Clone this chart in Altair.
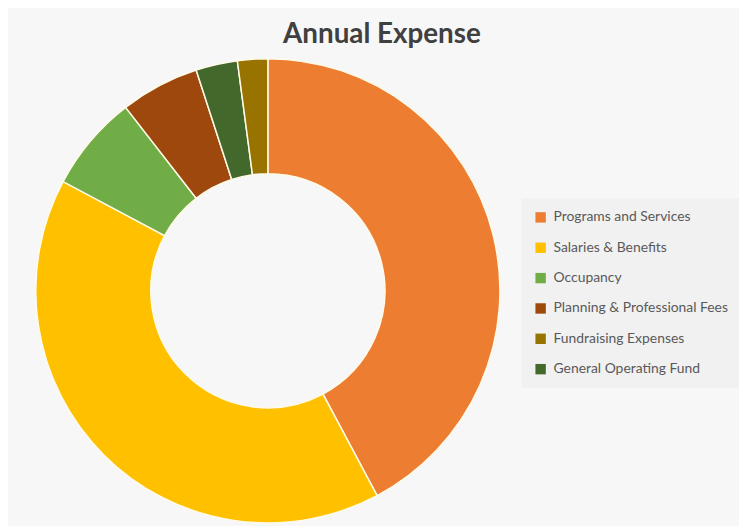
import altair as alt
import pandas as pd

categories = ["Programs and Services", "Salaries & Benefits", "Occupancy",
              "Planning & Professional Fees", "General Operating Fund", "Fundraising Expenses"]
values = [42.2, 40.6, 6.7, 5.5, 2.9, 2.1]
slice_order = [0, 1, 2, 3, 4, 5]

legend_order = ["Programs and Services", "Salaries & Benefits", "Occupancy",
                "Planning & Professional Fees", "Fundraising Expenses", "General Operating Fund"]
legend_colors = ["#ED7D31", "#FFC000", "#70AD47", "#9E480E", "#997300", "#43682B"]

df = pd.DataFrame({"category": categories, "value": values, "pos": slice_order})

chart = alt.Chart(df).mark_arc(
    innerRadius=118, outerRadius=234, stroke="#fffbe8", strokeWidth=1.5
).encode(
    x=alt.value(257),
    y=alt.value(235),
    theta=alt.Theta("value:Q", stack=True),
    order=alt.Order("pos:Q"),
    color=alt.Color(
        "category:N",
        scale=alt.Scale(domain=legend_order, range=legend_colors),
        sort=legend_order,
        legend=alt.Legend(
            title=None, orient="none", legendX=513, legendY=142,
            fillColor="#f1f1f1", padding=12,
            symbolType="square", symbolSize=110, symbolStrokeWidth=0,
            labelFont="Lato", labelFontSize=14, labelColor="#595959",
            labelLimit=300, rowPadding=16.6, labelOffset=6,
        ),
    ),
).properties(
    width=726, height=470,
    background="#f7f7f7",
    autosize=alt.AutoSizeParams(type="none"),
    padding={"left": 5, "top": 48, "right": 6, "bottom": 0},
    title=alt.TitleParams("Annual Expense", font="Lato", fontSize=28, fontWeight="bold",
                          color="#404040", anchor="middle", frame="group", offset=7, dx=9),
).configure_view(stroke=None)

chart.save("out.html", embed_options={"renderer": "svg", "actions": False})
